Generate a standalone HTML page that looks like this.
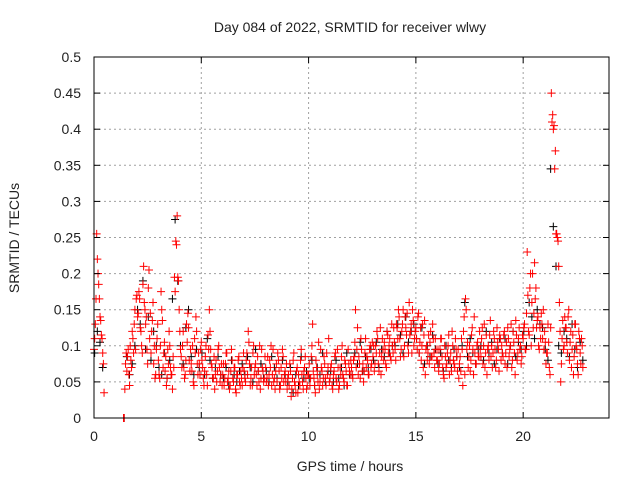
<!DOCTYPE html>
<html><head><meta charset="utf-8"><style>
body{margin:0;background:#fff;}
svg text{font-family:"Liberation Sans",sans-serif;fill:#222;}
</style></head><body>
<svg id="chart" width="640" height="480">
<rect width="640" height="480" fill="#fff"/>
<g id="grid"></g><g id="marks"></g><g id="axes"></g>
</svg>
<script>
// values in thousandths of TECU, sampled every 1/16 hour; one sub-array per hour
const redByHour = [
[95,130,255,200,165,135,110,75,null,null,null,null,null,null,null,null],
[null,null,null,null,null,null,0,40,90,85,60,100,70,110,130,95],
[170,145,165,120,90,210,150,140,75,205,145,120,160,100,60,110],
[80,55,175,135,90,65,45,95,120,70,60,85,195,245,280,190],
[120,85,100,70,60,130,145,80,95,65,50,110,140,75,90,60],
[105,70,45,85,60,115,150,95,70,55,40,80,65,100,50,75],
[60,45,75,90,55,40,65,80,50,70,35,60,85,45,55,70],
[65,50,90,120,75,55,45,100,70,60,85,50,40,95,65,55],
[70,55,45,80,100,60,50,40,75,90,65,45,55,85,60,50],
[40,60,75,30,55,90,45,65,35,50,80,60,40,70,55,45],
[60,45,85,130,55,35,70,50,40,95,65,55,75,45,60,110],
[55,75,40,65,90,50,70,45,60,100,55,80,65,45,75,60],
[70,55,85,150,95,60,75,110,65,50,90,70,80,60,100,75],
[85,65,100,120,75,90,60,110,80,95,70,115,100,85,130,90],
[105,80,125,150,110,95,130,85,140,115,100,160,120,90,135,110],
[125,95,145,105,80,130,115,60,100,90,75,120,85,110,70,95],
[80,65,95,110,70,55,85,75,100,60,90,120,80,70,95,65],
[55,85,110,45,140,165,95,70,100,80,125,60,90,75,105,85],
[95,110,75,130,90,60,100,115,85,70,120,95,80,105,65,110],
[100,85,120,90,70,110,95,130,80,105,60,115,90,125,100,85],
[110,130,95,230,120,180,100,200,145,165,125,140,95,110,130,150],
[120,75,90,105,60,450,420,405,370,255,245,160,50,110,95,140],
[125,90,150,105,70,115,85,130,95,60,110,75,100,null,null,null]
];
// second red pass, sampled every 1/16 hour offset by 1/32 hour
const redByHour2 = [
[110,165,220,185,140,115,90,35,null,null,null,null,null,null,null,null],
[null,null,null,null,null,null,0,75,65,95,45,80,120,90,150,165],
[140,175,125,100,185,160,130,95,180,110,90,135,75,55,95,130],
[60,100,150,70,105,85,55,75,100,60,40,70,175,240,195,150],
[95,70,120,55,80,105,125,65,75,100,45,90,120,60,75,95],
[80,55,65,100,45,95,120,75,55,85,60,50,95,70,60,45],
[75,55,90,50,65,45,95,55,70,40,60,80,50,65,45,90],
[55,80,60,105,45,70,90,60,75,45,65,100,55,70,50,85],
[50,85,60,70,45,95,55,65,50,80,40,70,95,50,65,75],
[55,45,65,40,80,50,35,70,60,45,95,50,65,85,40,60],
[75,55,100,65,45,80,60,105,50,70,45,85,55,90,70,50],
[70,45,60,85,55,95,40,70,85,60,50,75,45,95,65,80],
[60,80,105,70,125,85,55,95,75,65,110,85,60,95,70,105],
[100,75,90,110,65,125,85,95,105,75,120,90,110,80,100,125],
[95,130,110,140,85,120,150,100,125,145,90,115,130,150,100,120],
[110,140,90,125,100,70,135,95,80,115,105,85,130,90,110,80],
[95,75,110,85,60,100,70,90,115,80,65,100,75,110,85,95],
[75,65,95,120,60,150,105,85,65,115,95,140,75,100,85,120],
[85,125,100,70,115,95,80,135,100,90,110,70,125,95,115,80],
[90,115,75,105,125,85,100,70,120,90,135,80,110,95,75,115],
[125,95,145,170,115,200,160,125,215,180,135,100,125,145,110,95],
[105,90,130,70,125,410,400,345,255,250,210,120,75,135,100,125],
[105,140,80,120,95,60,130,100,75,120,90,110,70,null,null,null]
];
// black series, sampled every 1/8 hour
const blackByHour = [
[90,120,105,70,null,null,null,null],
[null,null,null,0,85,60,75,100],
[150,130,190,95,140,80,120,100],
[70,60,90,55,80,165,275,190],
[100,75,125,150,85,60,95,70],
[90,60,110,80,55,70,85,60],
[55,70,45,80,60,50,65,75],
[60,85,70,50,95,65,75,55],
[65,50,85,70,55,45,80,60],
[50,70,35,60,45,85,55,65],
[55,80,45,70,60,90,50,65],
[65,50,80,55,70,45,90,60],
[60,90,75,105,65,85,70,95],
[80,105,70,95,85,120,90,100],
[100,130,115,90,140,105,120,130],
[110,90,125,75,100,85,115,95],
[75,90,65,100,80,70,95,85],
[70,100,160,85,110,90,75,95],
[100,80,120,90,105,75,95,110],
[90,110,75,100,120,85,105,95],
[120,100,160,140,110,150,130,125],
[95,80,345,265,210,100,90,120],
[110,85,130,95,70,105,80,null]
];
const xTicks = [0,5,10,15,20];
const yTicks = [0,0.05,0.1,0.15,0.2,0.25,0.3,0.35,0.4,0.45,0.5];
const yTickLabels = ["0","0.05","0.1","0.15","0.2","0.25","0.3","0.35","0.4","0.45","0.5"];

const L=94,R=609,T=57,B=418,XMAX=24,YMAX=0.5;
const xs=h=>L+(h/XMAX)*(R-L);
const ys=v=>B-(v/YMAX)*(B-T);
const NS="http://www.w3.org/2000/svg";
function mk(tag,attrs,parent){const e=document.createElementNS(NS,tag);for(const k in attrs)e.setAttribute(k,attrs[k]);parent.appendChild(e);return e;}
const grid=document.getElementById('grid'),marks=document.getElementById('marks'),axes=document.getElementById('axes');

xTicks.forEach((t,i)=>{
  if(t>0){const g=mk('line',{x1:xs(t),x2:xs(t),y1:T,y2:B,stroke:'#a0a0a0','stroke-dasharray':'2,3'},grid);
  
  }
  mk('line',{x1:xs(t),x2:xs(t),y1:B,y2:B-6,stroke:'#000'},axes);
  mk('line',{x1:xs(t),x2:xs(t),y1:T,y2:T+6,stroke:'#000'},axes);
  const tx=mk('text',{x:xs(t),y:B+23,'text-anchor':'middle','font-size':'14'},axes);
  tx.textContent=t;
  
  
});
yTicks.forEach((t,i)=>{
  if(t>0&&t<YMAX){const g=mk('line',{x1:L,x2:R,y1:ys(t),y2:ys(t),stroke:'#a0a0a0','stroke-dasharray':'2,3'},grid);
  
  }
  mk('line',{x1:L,x2:L+6,y1:ys(t),y2:ys(t),stroke:'#000'},axes);
  mk('line',{x1:R,x2:R-6,y1:ys(t),y2:ys(t),stroke:'#000'},axes);
  const tx=mk('text',{x:L-13,y:ys(t)+5,'text-anchor':'end','font-size':'14'},axes);
  tx.textContent=yTickLabels[i];
  
  
});
const frame=mk('rect',{x:L,y:T,width:R-L,height:B-T,fill:'none',stroke:'#000'},axes);



function drawSeries(byHour,offset,color,name){
  const g=mk('g',{stroke:color,'stroke-width':'1'},marks);
  
  
  byHour.forEach((arr,h)=>{
    arr.forEach((v,i)=>{
      if(v===null)return;
      const x=xs(h+i/arr.length+offset),y=ys(v/1000);
      const p=mk('path',{d:`M${x-4},${y}H${x+4}M${x},${y-4}V${y+4}`},g);
      
      
    });
  });
}
drawSeries(blackByHour,0.03,'#000','series-black');
drawSeries(redByHour,0,'#ff0000','series-red');
drawSeries(redByHour2,1/32,'#ff0000','series-red-2');

const title=mk('text',{x:350,y:32,'text-anchor':'middle','font-size':'14'},axes);
title.textContent='Day 084 of 2022, SRMTID for receiver wlwy';


const xl=mk('text',{x:350,y:471,'text-anchor':'middle','font-size':'14'},axes);
xl.textContent='GPS time / hours';


const yl=mk('text',{x:0,y:0,'text-anchor':'middle','font-size':'14',transform:'translate(19,238) rotate(-90)'},axes);
yl.textContent='SRMTID / TECUs';


</script>
</body></html>
